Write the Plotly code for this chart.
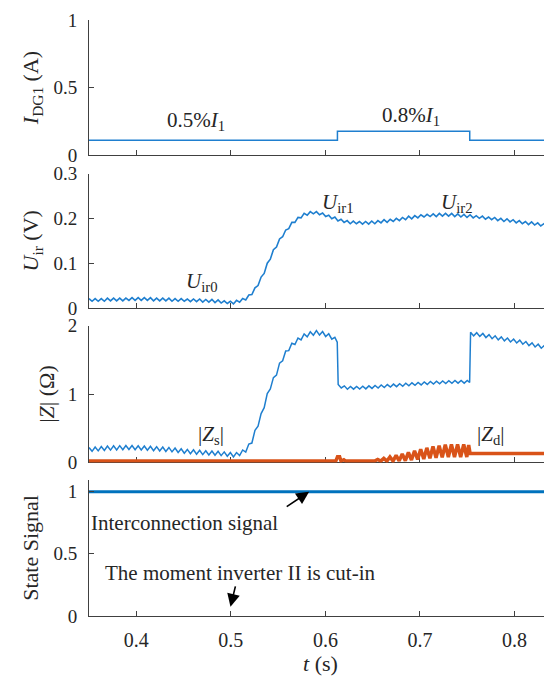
import numpy as np
import plotly.graph_objects as go

# ---------------- data ----------------
X_RANGE = [0.35, 0.8396]
HALF = 0.00325  # half ripple period (s)

# Subplot 1: I_DG1 step
idg_t = [0.35, 0.6127, 0.7526, 0.84]
idg_v = [0.11, 0.176, 0.11, 0.11]

# Subplot 2: U_ir (ripple extremes, every half period starting at 0.35 s)
UIR_T0 = 0.35
uir_vals = [
    0.021, 0.015, 0.021, 0.015, 0.021, 0.015, 0.022, 0.016, 0.022, 0.016,
    0.022, 0.016, 0.022, 0.017, 0.023, 0.017, 0.023, 0.017, 0.023, 0.017,
    0.023, 0.016, 0.022, 0.016, 0.022, 0.016, 0.022, 0.015, 0.021, 0.015,
    0.021, 0.015, 0.020, 0.014, 0.020, 0.014, 0.020, 0.013, 0.019, 0.013,
    0.019, 0.012, 0.018, 0.011, 0.016, 0.010, 0.015, 0.009, 0.017, 0.013,
    0.021, 0.018, 0.029, 0.030, 0.045, 0.050, 0.069, 0.077, 0.100, 0.109,
    0.130, 0.136, 0.154, 0.159, 0.174, 0.177, 0.191, 0.191, 0.202, 0.201,
    0.211, 0.207, 0.215, 0.210, 0.215, 0.208, 0.212, 0.204, 0.207, 0.199,
    0.203, 0.194, 0.198, 0.191, 0.195, 0.188, 0.194, 0.188, 0.193, 0.187,
    0.193, 0.187, 0.194, 0.188, 0.195, 0.190, 0.197, 0.191, 0.198, 0.193,
    0.200, 0.195, 0.202, 0.197, 0.205, 0.199, 0.206, 0.201, 0.208, 0.203,
    0.209, 0.204, 0.210, 0.204, 0.211, 0.205, 0.211, 0.205, 0.211, 0.204,
    0.210, 0.203, 0.209, 0.202, 0.208, 0.201, 0.206, 0.200, 0.205, 0.198,
    0.203, 0.197, 0.202, 0.195, 0.200, 0.193, 0.199, 0.192, 0.197, 0.190,
    0.195, 0.188, 0.193, 0.186, 0.192, 0.185, 0.190, 0.183, 0.188, 0.181,
    0.186, 0.179,
]

# Subplot 3: |Z_s| in three pieces (ripple extremes every half period)
ZS_A_T0 = 0.35
zs_a = [
    0.220, 0.163, 0.227, 0.170, 0.233, 0.176, 0.240, 0.181, 0.243, 0.184,
    0.246, 0.187, 0.249, 0.190, 0.248, 0.186, 0.244, 0.183, 0.241, 0.179,
    0.236, 0.173, 0.231, 0.168, 0.225, 0.162, 0.220, 0.155, 0.211, 0.146,
    0.201, 0.136, 0.191, 0.128, 0.185, 0.121, 0.178, 0.115, 0.172, 0.110,
    0.168, 0.105, 0.163, 0.100, 0.155, 0.091, 0.146, 0.082, 0.145, 0.101,
    0.183, 0.153, 0.270, 0.284, 0.470, 0.531, 0.715, 0.801, 1.008, 1.074,
    1.240, 1.277, 1.453, 1.487, 1.630, 1.635, 1.742, 1.724, 1.820, 1.792,
    1.879, 1.837, 1.911, 1.861, 1.929, 1.863, 1.915, 1.842, 1.882, 1.802,
    1.830,
]
zs_a_end = (0.6125, 1.76)
ZS_B_T0 = 0.6135
zs_b = [
    1.139, 1.089, 1.120, 1.071, 1.111, 1.072, 1.112, 1.073, 1.114, 1.076,
    1.120, 1.083, 1.126, 1.089, 1.133, 1.096, 1.139, 1.102, 1.146, 1.109,
    1.152, 1.115, 1.158, 1.122, 1.165, 1.128, 1.171, 1.134, 1.178, 1.141,
    1.184, 1.146, 1.189, 1.150, 1.192, 1.154, 1.196, 1.158, 1.200, 1.160,
    1.200, 1.160, 1.200,
]
zs_b_end = (0.7525, 1.17)
ZS_C_T0 = 0.7535
zs_c = [
    1.905, 1.851, 1.898, 1.844, 1.886, 1.827, 1.869, 1.810, 1.852, 1.793,
    1.836, 1.778, 1.820, 1.762, 1.805, 1.747, 1.789, 1.729, 1.769, 1.709,
    1.749, 1.689, 1.729, 1.670, 1.711, 1.652, 1.693, 1.634,
]

# |Z_d|
zd_pre_t = [0.35, 0.6110, 0.6128, 0.6150, 0.6165, 0.6195, 0.6215, 0.6450]
zd_pre_v = [0.02, 0.02, 0.085, 0.085, 0.02, 0.04, 0.02, 0.02]
ZD_OSC_T0 = 0.6455
zd_osc = [
    0.020, 0.031, 0.020, 0.043, 0.020, 0.060, 0.020, 0.081, 0.021, 0.104,
    0.023, 0.126, 0.026, 0.148, 0.036, 0.171, 0.044, 0.192, 0.050, 0.214,
    0.061, 0.234, 0.069, 0.247, 0.075, 0.261, 0.080, 0.265, 0.080, 0.265,
    0.080, 0.263, 0.080,
]
zd_post_t = [0.7515, 0.7525, 0.7530, 0.8400]
zd_post_v = [0.255, 0.13, 0.13, 0.13]

# Subplot 4: state signal
state_t = [0.35, 0.84]
state_v = [1, 1]

x_ticks = [0.4, 0.5, 0.6, 0.7, 0.8]
x_ticklabels = ["0.4", "0.5", "0.6", "0.7", "0.8"]

# ---------------- build series ----------------
def grid(t0, vals):
    return list(t0 + HALF * np.arange(len(vals)))

uir_t = grid(UIR_T0, uir_vals)
zs_t = (grid(ZS_A_T0, zs_a) + [zs_a_end[0]] + grid(ZS_B_T0, zs_b) + [zs_b_end[0]]
        + grid(ZS_C_T0, zs_c))
zs_v = zs_a + [zs_a_end[1]] + zs_b + [zs_b_end[1]] + zs_c
zd_t = zd_pre_t + grid(ZD_OSC_T0, zd_osc) + zd_post_t
zd_v = zd_pre_v + zd_osc + zd_post_v

BLUE = "#1f7fcf"
BLUE_D = "#0072BD"
ORANGE = "#D95319"
AX = "#404040"
TXT = "#262626"
FONT = "Liberation Serif"

fig = go.Figure()
fig.add_trace(go.Scatter(x=idg_t, y=idg_v, mode="lines", line=dict(color=BLUE, width=1.5, shape="hv"),
                         xaxis="x", yaxis="y", showlegend=False))
fig.add_trace(go.Scatter(x=uir_t, y=uir_vals, mode="lines", line=dict(color=BLUE, width=1.6),
                         xaxis="x2", yaxis="y2", showlegend=False))
fig.add_trace(go.Scatter(x=zs_t, y=zs_v, mode="lines", line=dict(color=BLUE, width=1.5),
                         xaxis="x3", yaxis="y3", showlegend=False))
fig.add_trace(go.Scatter(x=zd_t, y=zd_v, mode="lines", line=dict(color=ORANGE, width=3.5),
                         xaxis="x3", yaxis="y3", showlegend=False))
fig.add_trace(go.Scatter(x=state_t, y=state_v, mode="lines", line=dict(color=BLUE_D, width=3),
                         xaxis="x4", yaxis="y4", showlegend=False))

def xax(anchor, labels, title=None, layer="above traces"):
    d = dict(anchor=anchor, domain=[0, 1], range=X_RANGE, showline=True, linecolor=AX, linewidth=1,
             ticks="inside", ticklen=5, tickcolor=AX, tickvals=x_ticks,
             ticktext=x_ticklabels, showticklabels=labels, showgrid=False, zeroline=False,
             tickfont=dict(family=FONT, size=20, color=TXT), ticklabelstandoff=6, layer=layer)
    if title:
        d["title"] = dict(text=title, font=dict(family=FONT, size=22, color=TXT), standoff=4)
    return d

def yax(anchor, domain, rng, tickvals, ticktext, title, standoff=8):
    return dict(anchor=anchor, domain=domain, range=rng, showline=True, linecolor=AX, linewidth=1,
                ticks="inside", ticklen=5, tickcolor=AX, tickvals=tickvals, ticktext=ticktext,
                showgrid=False, zeroline=False,
                tickfont=dict(family=FONT, size=19, color=TXT), ticklabelstandoff=7,
                title=dict(text=title, font=dict(family=FONT, size=22, color=TXT), standoff=standoff))

# the page adds an 8 px body margin, so the figure is 8 px smaller and margins shifted
fig.update_layout(
    width=544, height=669,
    margin=dict(l=81, r=0, t=12, b=61, autoexpand=False),
    paper_bgcolor="white", plot_bgcolor="white",
    xaxis=xax("y", False),
    xaxis2=xax("y2", False),
    xaxis3=xax("y3", False, layer="below traces"),
    xaxis4=xax("y4", True, title="<i>t</i> (s)"),
    yaxis=yax("x", [0.7735, 1.0], [0, 1], [0, 0.5, 1], ["0", "0.5", "1"],
              "<i>I</i><sub>DG1</sub> (A)"),
    yaxis2=yax("x2", [0.5168, 0.7424], [0, 0.3], [0, 0.1, 0.2, 0.3], ["0", "0.1", "0.2", "0.3"],
               "<i>U</i><sub>ir</sub> (V)"),
    yaxis3=yax("x3", [0.2576, 0.4871], [0, 2], [0, 1, 2], ["0", "1", "2"],
               "|<i>Z</i>| (Ω)", standoff=6),
    yaxis4=yax("x4", [0, 0.2282], [0, 1.094], [0, 0.5, 1], ["0", "0.5", "1"],
               "State Signal"),
)

afont = dict(family=FONT, size=21, color=TXT)
notes = [
    ("x", "y", 0.4634, 0.25, "0.5%<i>I</i><sub>1</sub>"),
    ("x", "y", 0.691, 0.29, "0.8%<i>I</i><sub>1</sub>"),
    ("x2", "y2", 0.469, 0.057, "<i>U</i><sub>ir0</sub>"),
    ("x2", "y2", 0.6137, 0.234, "<i>U</i><sub>ir1</sub>"),
    ("x2", "y2", 0.7396, 0.235, "<i>U</i><sub>ir2</sub>"),
    ("x3", "y3", 0.479, 0.40, "|<i>Z</i><sub>s</sub>|"),
    ("x3", "y3", 0.775, 0.40, "|<i>Z</i><sub>d</sub>|"),
    ("x4", "y4", 0.451, 0.75, "Interconnection signal"),
    ("x4", "y4", 0.510, 0.343, "The moment inverter II is cut-in"),
]
for xr, yr, x, y, t in notes:
    fig.add_annotation(x=x, y=y, xref=xr, yref=yr, text=t, showarrow=False, font=afont)

arrows = [
    (0.5828, 1.0, 0.5575, 0.872),
    (0.4996, 0.075, 0.5052, 0.25),
]
for x, y, ax_, ay_ in arrows:
    fig.add_annotation(x=x, y=y, ax=ax_, ay=ay_, xref="x4", yref="y4", axref="x4", ayref="y4",
                       text="", showarrow=True, arrowhead=2, arrowsize=1.6, arrowwidth=1.6,
                       arrowcolor="black")

fig.write_html("out.html")
